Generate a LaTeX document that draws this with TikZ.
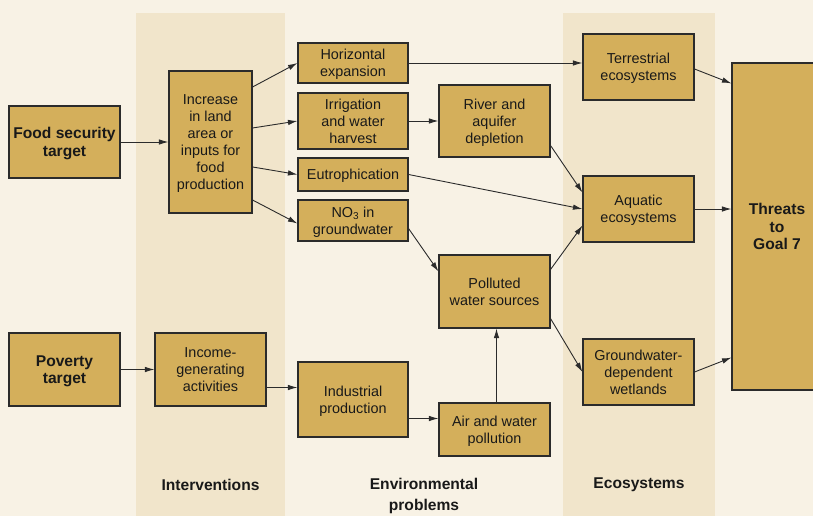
\documentclass[tikz,border=0pt]{standalone}
\usepackage{fontspec}
\setmainfont{Liberation Sans}
\usetikzlibrary{arrows.meta}
\definecolor{paper}{HTML}{F8F2E5}
\definecolor{bandcol}{HTML}{F1E5CB}
\definecolor{boxcol}{HTML}{D4AF5B}
\definecolor{inkcol}{HTML}{2B2B2B}

\begin{document}
\begin{tikzpicture}[x=1pt,y=-1pt,
    box/.style={draw=inkcol,line width=1.1pt,fill=boxcol,text=black!90,
      align=center,inner sep=1pt,text depth=0pt,
      font=\fontsize{14.4}{17}\selectfont},
    boldbox/.style={box,font=\fontsize{15.6}{17.4}\selectfont\bfseries},
    arr/.style={draw=inkcol,line width=0.9pt,-{Latex[length=9.5pt,width=5.5pt]}},
    heading/.style={align=center,text=black!90,
      font=\fontsize{15.6}{20.5}\selectfont\bfseries}]
  \clip (0,0) rectangle (813,516);
  \fill[paper] (0,0) rectangle (813,516);
  \fill[bandcol] (136,13) rectangle (285,516);
  \fill[bandcol] (563,13) rectangle (715,516);

  % targets
  \node[boldbox,minimum width=111pt,minimum height=72pt] (food) at (64.5,142)
    {Food security\\target};
  \node[boldbox,minimum width=111pt,minimum height=73pt] (pov) at (64.5,369.5)
    {Poverty\\target};

  % interventions
  \node[box,minimum width=83pt,minimum height=142pt] (inc) at (210.5,142)
    {Increase\\in land\\area or\\inputs for\\food\\production};
  \node[box,minimum width=111pt,minimum height=73pt] (income) at (210.5,369.5)
    {Income-\\generating\\activities};

  % environmental problems
  \node[box,minimum width=110pt,minimum height=40pt] (hex) at (353,63)
    {Horizontal\\expansion};
  \node[box,minimum width=110pt,minimum height=56pt] (irr) at (353,121)
    {Irrigation\\and water\\harvest};
  \node[box,minimum width=110pt,minimum height=33pt] (eut) at (353,174.5)
    {Eutrophication};
  \node[box,minimum width=110pt,minimum height=41pt] (no3) at (353,220.5)
    {NO\textsubscript{3} in\\groundwater};
  \node[box,minimum width=110pt,minimum height=75pt] (ind) at (353,399.5)
    {Industrial\\production};
  \node[box,minimum width=111pt,minimum height=72pt] (riv) at (494.5,121)
    {River and\\aquifer\\depletion};
  \node[box,minimum width=111pt,minimum height=73pt] (pol) at (494.5,291.5)
    {Polluted\\water sources};
  \node[box,minimum width=111pt,minimum height=53pt] (air) at (494.5,429.5)
    {Air and water\\pollution};

  % ecosystems
  \node[box,minimum width=111pt,minimum height=66pt] (ter) at (638.5,67)
    {Terrestrial\\ecosystems};
  \node[box,minimum width=111pt,minimum height=66pt] (aqu) at (638.5,209)
    {Aquatic\\ecosystems};
  \node[box,minimum width=111pt,minimum height=66pt] (gdw) at (638.5,372)
    {Groundwater-\\dependent\\wetlands};

  \node[boldbox,minimum width=90pt,minimum height=327pt] (thr) at (777,226.5)
    {Threats\\to\\Goal 7};

  \node[heading] (hint) at (210.5,485) {Interventions};
  \node[heading,anchor=north] (henv) at (424,475) {Environmental\\problems};
  \node[heading] (heco) at (639,485) {Ecosystems};

  \draw[arr] (food.east) -- (inc.west);
  \draw[arr] ([yshift=55pt]inc.east) -- (hex.west);
  \draw[arr] ([yshift=14pt]inc.east) -- (irr.west);
  \draw[arr] ([yshift=-25pt]inc.east) -- (eut.west);
  \draw[arr] ([yshift=-58pt]inc.east) -- ([yshift=-3pt]no3.west);
  \draw[arr] (pov.east) -- (income.west);
  \draw[arr] ([yshift=-18pt]income.east) -- ([yshift=12pt]ind.west);

  \draw[arr] (hex.east) -- (hex.east -| ter.west);
  \draw[arr] (irr.east) -- (riv.west);
  \draw[arr] (eut.east) -- (aqu.west);
  \draw[arr] ([yshift=-8pt]no3.east) -- ([yshift=-17pt]pol.north west);
  \draw[arr] ([yshift=-19pt]ind.east) -- ([yshift=11pt]air.west);
  \draw[arr] ([xshift=2pt]air.north) -- ([xshift=2pt]pol.south);
  \draw[arr] ([yshift=12pt]riv.south east) -- ([yshift=-17pt]aqu.north west);
  \draw[arr] ([yshift=-15pt]pol.north east) -- ([yshift=17pt]aqu.south west);
  \draw[arr] ([yshift=10pt]pol.south east) -- (gdw.west);

  \draw[arr] ([yshift=-2pt]ter.east) -- ([yshift=-21pt]thr.north west);
  \draw[arr] (aqu.east) -- (aqu.east -| thr.west);
  \draw[arr] (gdw.east) -- ([yshift=33pt]thr.south west);
\end{tikzpicture}
\end{document}
